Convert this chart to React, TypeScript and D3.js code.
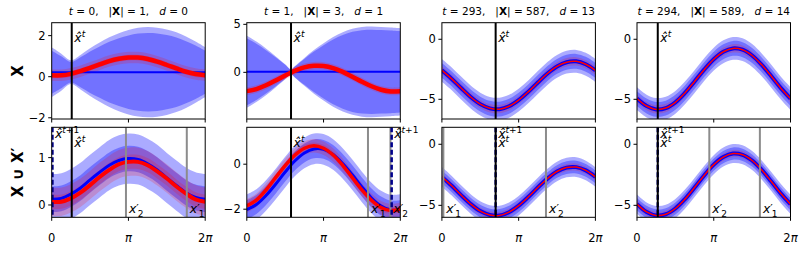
import React from 'react';
import * as d3 from 'd3';

const FONT = 'DejaVu Sans';
const TWO_PI = 6.2832;

// shared sample grid (x values, radians)
const GRID = [0, 0.393, 0.785, 1.178, 1.571, 1.963, 2.356, 2.749, 3.142, 3.534, 3.927, 4.32, 4.712, 5.105, 5.498, 5.89, 6.283];
const P2T_X = [0, 0.393, 0.785, 1.178, 1.571, 1.81, 1.963, 2.356, 2.749, 3.142, 3.534, 3.927, 4.32, 4.712, 5.105, 5.498, 5.89, 6.283];

// titles
const titleT = ['0', '1', '293', '294'];
const titleN = ['1', '3', '587', '589'];
const titleD = ['0', '1', '13', '14'];

// x ticks
const xTickVals = [0, 3.1416, 6.2832];
const xTickLabels = [['0', ''], ['', 'π'], ['2', 'π']];

// ---- column 0, top ----
const p1TopRed = [0.07, 0.07, 0.14, 0.27, 0.43, 0.6, 0.76, 0.87, 0.93, 0.93, 0.86, 0.73, 0.57, 0.4, 0.24, 0.13, 0.07];
const p1TopBlue = [0.22, 0.22, 0.22, 0.22, 0.22, 0.22, 0.22, 0.22, 0.22, 0.22, 0.22, 0.22, 0.22, 0.22, 0.22, 0.22, 0.22];
const p1TopOuter = [1.21, 0.9, 0.58, 0.84, 1.16, 1.44, 1.7, 1.9, 2.06, 2.16, 2.2, 2.17, 2.08, 1.94, 1.74, 1.49, 1.21];
const p1TopInner = [1.05, 0.78, 0.5, 0.73, 1.01, 1.25, 1.48, 1.65, 1.79, 1.88, 1.91, 1.89, 1.81, 1.69, 1.51, 1.3, 1.05];

// ---- column 1, top ----
const p2TopRed = [-1.96, -1.74, -1.35, -0.85, -0.33, -0.03, 0.15, 0.51, 0.68, 0.66, 0.44, 0.05, -0.45, -0.97, -1.45, -1.81, -1.99, -1.96];
const p2TopBlue = [0.05, 0.05, 0.05, 0.05, 0.05, 0.05, 0.05, 0.05, 0.05, 0.05, 0.05, 0.05, 0.05, 0.05, 0.05, 0.05, 0.05, 0.05];
const p2TopOuter = [3.75, 3.15, 2.43, 1.63, 0.78, 0.25, 0.59, 1.45, 2.27, 2.99, 3.63, 4.13, 4.48, 4.67, 4.72, 4.68, 4.62, 4.55];
const p2TopInner = [3.49, 2.93, 2.26, 1.52, 0.73, 0.23, 0.55, 1.35, 2.11, 2.78, 3.38, 3.84, 4.17, 4.34, 4.39, 4.35, 4.3, 4.23];

// ---- column 0, bottom ----
const p1BotBlue = [0.12, 0.14, 0.23, 0.36, 0.53, 0.69, 0.84, 0.94, 0.98, 0.96, 0.87, 0.74, 0.57, 0.41, 0.26, 0.16, 0.12];
const p1BotRed = [0.07, 0.07, 0.14, 0.26, 0.42, 0.59, 0.74, 0.86, 0.91, 0.91, 0.84, 0.71, 0.56, 0.39, 0.24, 0.12, 0.07];

// ---- column 1, bottom ----
const p2BotBlue = [-2.02, -1.79, -1.39, -0.89, -0.35, 0.14, 0.5, 0.68, 0.66, 0.43, 0.03, -0.47, -1.01, -1.5, -1.86, -2.04, -2.02];
const p2BotRed = [-1.85, -1.6, -1.15, -0.6, -0.06, 0.4, 0.71, 0.82, 0.71, 0.41, -0.05, -0.6, -1.14, -1.6, -1.93, -2.06, -2.0];

// ---- column 2 ----
const p3TopMean = [-2.59, -3.28, -4.06, -4.81, -5.4, -5.75, -5.82, -5.58, -5.07, -4.38, -3.6, -2.85, -2.26, -1.91, -1.84, -2.08, -2.59];
const p3BotMean = [-2.67, -3.38, -4.16, -4.89, -5.47, -5.79, -5.83, -5.56, -5.03, -4.32, -3.54, -2.81, -2.23, -1.91, -1.87, -2.14, -2.67];

// ---- column 3 ----
const p4TopMean = [-4.94, -5.56, -5.84, -5.73, -5.25, -4.47, -3.52, -2.53, -1.66, -1.04, -0.76, -0.87, -1.35, -2.13, -3.08, -4.07, -4.94];
const p4BotMean = [-4.9, -5.54, -5.83, -5.73, -5.26, -4.49, -3.54, -2.55, -1.67, -1.05, -0.76, -0.86, -1.33, -2.1, -3.05, -4.04, -4.9];

// band half-widths (bottom row + later panels: roughly constant)
const bandOuter = [null, null, 0.95, 0.95, 0.53, 0.68, 0.8, 0.78];
const bandInner = [null, null, 0.62, 0.62, 0.27, 0.42, 0.52, 0.5];
const redOuter = [0.28, 0.4, 0.35, 0.35, 0.3, 0.3, 0.3, 0.3];
const redInner = [0.14, 0.2, 0.18, 0.18, 0.15, 0.15, 0.15, 0.15];

// y limits and ticks
const yLims: [number, number][] = [[-2.06, 2.63], [-4.86, 5.17], [-6.64, 1.38], [-6.64, 1.38], [-0.26, 1.64], [-2.36, 1.64], [-5.98, 1.39], [-5.98, 1.39]];
const yTicks = [[-2, 0, 2], [0, 5], [-5, 0], [-5, 0], [0, 1], [-2, 0], [-5, 0], [-5, 0]];

// marker x positions
const xHat = [0.82, 1.81, 2.2, 0.85];
const xHatNext = [0.03, 5.93, 2.2, 0.85];
const xPrime1 = [5.53, 4.96, 0.06, 5.03];
const xPrime2 = [3.04, 5.88, 4.26, 2.96];

// layout
const COL_LEFT = [51.7, 246.8, 441.9, 637];
const COL_W = 153.5;
const ROWS = [{ top: 22.7, h: 96.3 }, { top: 127.3, h: 90 }];

type Panel = {
  idx: number; col: number; row: number;
  xs: number[]; red: number[]; blue: number[];
  outer: number[]; inner: number[];
  redW: number; blueW: number;
};

const constArr = (n: number, v: number) => Array.from({ length: n }, () => v);

const panels: Panel[] = [
  { idx: 0, col: 0, row: 0, xs: GRID, red: p1TopRed, blue: p1TopBlue, outer: p1TopOuter, inner: p1TopInner, redW: 4.5, blueW: 2 },
  { idx: 1, col: 1, row: 0, xs: P2T_X, red: p2TopRed, blue: p2TopBlue, outer: p2TopOuter, inner: p2TopInner, redW: 4.5, blueW: 2 },
  { idx: 2, col: 2, row: 0, xs: GRID, red: p3TopMean, blue: p3TopMean, outer: constArr(17, bandOuter[2]!), inner: constArr(17, bandInner[2]!), redW: 1.5, blueW: 4 },
  { idx: 3, col: 3, row: 0, xs: GRID, red: p4TopMean, blue: p4TopMean, outer: constArr(17, bandOuter[3]!), inner: constArr(17, bandInner[3]!), redW: 1.5, blueW: 4 },
  { idx: 4, col: 0, row: 1, xs: GRID, red: p1BotRed, blue: p1BotBlue, outer: constArr(17, bandOuter[4]!), inner: constArr(17, bandInner[4]!), redW: 4, blueW: 3 },
  { idx: 5, col: 1, row: 1, xs: GRID, red: p2BotRed, blue: p2BotBlue, outer: constArr(17, bandOuter[5]!), inner: constArr(17, bandInner[5]!), redW: 3.5, blueW: 3 },
  { idx: 6, col: 2, row: 1, xs: GRID, red: p3BotMean, blue: p3BotMean, outer: constArr(17, bandOuter[6]!), inner: constArr(17, bandInner[6]!), redW: 1.5, blueW: 4 },
  { idx: 7, col: 3, row: 1, xs: GRID, red: p4BotMean, blue: p4BotMean, outer: constArr(17, bandOuter[7]!), inner: constArr(17, bandInner[7]!), redW: 1.5, blueW: 4 },
];

const curve = d3.curveCatmullRom.alpha(0.5);

function HatLabel({ x, y, next }: { x: number; y: number; next: boolean }) {
  return (
    <text x={x} y={y} fontFamily={FONT} fontSize={12.5} fill="black" style={{ whiteSpace: 'pre' }}>
      <tspan fontStyle="italic">{'x\u0302'}</tspan>
      <tspan fontSize={9} dy={-5.5} fontStyle="italic">t</tspan>
      {next ? <tspan fontSize={9}>+1</tspan> : null}
    </text>
  );
}

function PrimeLabel({ x, y, i }: { x: number; y: number; i: number }) {
  return (
    <text x={x} y={y} fontFamily={FONT} fontSize={12.5} fill="black">
      <tspan fontStyle="italic">x</tspan>
      <tspan fontSize={11} dy={-1.5}>{'\u2032'}</tspan>
      <tspan fontSize={9} dx={-1} dy={5.5}>{String(i)}</tspan>
    </text>
  );
}

function PanelView({ p }: { p: Panel }) {
  const left = COL_LEFT[p.col];
  const { top, h } = ROWS[p.row];
  const x = d3.scaleLinear().domain([0, TWO_PI]).range([left, left + COL_W]);
  const y = d3.scaleLinear().domain(yLims[p.idx]).range([top + h, top]);
  const n = p.xs.length;
  const idxs = d3.range(n);
  const band = (c: number[], hw: (i: number) => number) =>
    d3.area<number>().x(i => x(p.xs[i])).y0(i => y(c[i] - hw(i))).y1(i => y(c[i] + hw(i))).curve(curve)(idxs) || '';
  const line = (c: number[]) => d3.line<number>().x(i => x(p.xs[i])).y(i => y(c[i])).curve(curve)(idxs) || '';
  const clipId = `clip${p.idx}`;
  const bottom = top + h;
  const c = p.col;
  return (
    <g>
      <defs>
        <clipPath id={clipId}><rect x={left} y={top} width={COL_W} height={h} /></clipPath>
      </defs>
      <g clipPath={`url(#${clipId})`}>
        <path d={band(p.blue, i => p.outer[i])} fill="#0000ff" fillOpacity={0.33} />
        <path d={band(p.blue, i => p.inner[i])} fill="#0000ff" fillOpacity={0.33} />
        <path d={band(p.red, () => redOuter[p.idx])} fill="#ff0000" fillOpacity={0.18} />
        <path d={band(p.red, () => redInner[p.idx])} fill="#ff0000" fillOpacity={0.18} />
        <path d={line(p.blue)} fill="none" stroke="#0000ff" strokeWidth={p.blueW} />
        <path d={line(p.red)} fill="none" stroke="#ff0000" strokeWidth={p.redW} />
        {p.row === 1 && (
          <g>
            <line x1={x(xPrime1[c])} x2={x(xPrime1[c])} y1={top} y2={bottom} stroke="#8c8c8c" strokeWidth={2} />
            <line x1={x(xPrime2[c])} x2={x(xPrime2[c])} y1={top} y2={bottom} stroke="#8c8c8c" strokeWidth={2} />
            <line x1={x(xHatNext[c])} x2={x(xHatNext[c])} y1={top} y2={bottom} stroke="#00008b" strokeWidth={2.5} strokeDasharray="5,2.5" />
          </g>
        )}
        <line x1={x(xHat[c])} x2={x(xHat[c])} y1={top} y2={bottom} stroke="black" strokeWidth={2} />
      </g>
      <rect x={left} y={top} width={COL_W} height={h} fill="none" stroke="black" strokeWidth={1} />
      {yTicks[p.idx].map(v => (
        <g key={v}>
          <line x1={left - 3.5} x2={left} y1={y(v)} y2={y(v)} stroke="black" strokeWidth={1} />
          <text x={left - 6} y={y(v)} dy="0.36em" textAnchor="end" fontFamily={FONT} fontSize={11.5}>{v < 0 ? `\u2212${-v}` : String(v)}</text>
        </g>
      ))}
      {xTickVals.map((v, i) => (
        <g key={i}>
          <line x1={x(v)} x2={x(v)} y1={bottom} y2={bottom + 3.5} stroke="black" strokeWidth={1} />
          {p.row === 1 && (
            <text x={x(v)} y={bottom + 25} textAnchor="middle" fontFamily={FONT} fontSize={11.5}>
              {xTickLabels[i][0]}<tspan fontStyle="italic">{xTickLabels[i][1]}</tspan>
            </text>
          )}
        </g>
      ))}
      {p.row === 0 ? (
        <HatLabel x={x(xHat[c]) + 2.5} y={top + 19.5} next={false} />
      ) : (
        <g>
          <HatLabel x={x(xHatNext[c]) + 2.5} y={top + 11} next={true} />
          <HatLabel x={x(xHat[c]) + 2.5} y={top + 20} next={false} />
          <PrimeLabel x={x(xPrime1[c]) + 3} y={bottom - 4} i={1} />
          <PrimeLabel x={x(xPrime2[c]) + 3} y={bottom - 4} i={2} />
        </g>
      )}
    </g>
  );
}

export default function App() {
  return (
    <svg width={810} height={253} style={{ position: 'absolute', left: 0, top: 0, background: 'white' }}>
      <rect x={0} y={0} width={810} height={253} fill="white" />
      {panels.map(p => <PanelView key={p.idx} p={p} />)}
      {COL_LEFT.map((l, i) => (
        <text key={i} x={l + COL_W / 2} y={14.5} textAnchor="middle" fontFamily={FONT} fontSize={10.5} style={{ whiteSpace: 'pre' }}>
          <tspan fontStyle="italic">t</tspan>{` = ${titleT[i]},   |`}<tspan fontWeight="bold">X</tspan>{`| = ${titleN[i]},   `}<tspan fontStyle="italic">d</tspan>{` = ${titleD[i]}`}
        </text>
      ))}
      <text transform={`translate(22.5,${ROWS[0].top + ROWS[0].h / 2}) rotate(-90)`} textAnchor="middle" fontFamily={FONT} fontSize={15} fontWeight="bold">X</text>
      <text transform={`translate(22.5,${ROWS[1].top + ROWS[1].h / 2}) rotate(-90)`} textAnchor="middle" fontFamily={FONT} fontSize={15} fontWeight="bold" style={{ whiteSpace: 'pre' }}>
        {'X ∪ X′'}
      </text>
    </svg>
  );
}
